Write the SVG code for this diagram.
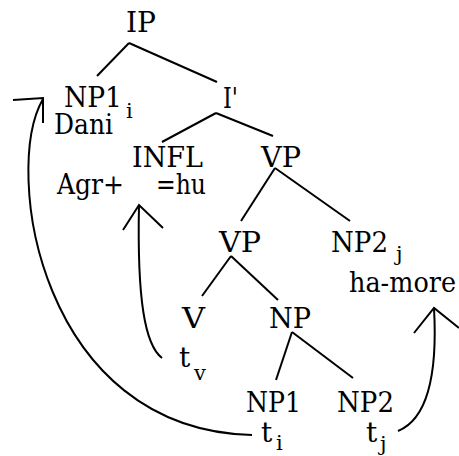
<svg xmlns="http://www.w3.org/2000/svg" width="459" height="456" viewBox="0 0 459 456">
<style>
text{font-family:"DejaVu Serif",serif;font-size:28px;fill:#000}
.s{font-size:21px}
.e{stroke:#000;stroke-width:2;fill:none;stroke-linecap:butt}
</style>
<rect width="459" height="456" fill="#fff"/>
<g id="connectors" class="e">
<line x1="129" y1="43" x2="97" y2="76"/>
<line x1="129" y1="43" x2="217" y2="82"/>
<line x1="216" y1="113" x2="162" y2="142"/>
<line x1="216" y1="113" x2="273" y2="136"/>
<line x1="275" y1="168" x2="241" y2="221"/>
<line x1="275" y1="168" x2="350" y2="221"/>
<line x1="231" y1="256" x2="202" y2="296"/>
<line x1="231" y1="256" x2="278" y2="300"/>
<line x1="292" y1="332" x2="276" y2="380"/>
<line x1="292" y1="332" x2="353" y2="378"/>
<path d="M252,435 C40,430 2,170 43,99"/>
<path d="M13,100 L43,98 L43,123"/>
<path d="M162,358 C145,345 137,300 139,205"/>
<path d="M123,230 L139,205 L163,228"/>
<path d="M398,431 C425,420 438,380 434,308"/>
<path d="M414,333 L434,308 L459,328"/>
</g>
<g id="n-IP"><text x="126" y="32" textLength="30" lengthAdjust="spacingAndGlyphs">IP</text></g>
<g id="n-NP1"><text x="64" y="107" textLength="58" lengthAdjust="spacingAndGlyphs">NP1</text><text class="s" x="126" y="118">i</text><text x="54" y="134" textLength="59" lengthAdjust="spacingAndGlyphs">Dani</text></g>
<g id="n-Ibar"><text x="223" y="108" textLength="15" lengthAdjust="spacingAndGlyphs">I'</text></g>
<g id="n-INFL"><text x="132" y="167" textLength="71" lengthAdjust="spacingAndGlyphs">INFL</text><text x="57" y="194" textLength="67" lengthAdjust="spacingAndGlyphs">Agr+</text><text x="156" y="194" textLength="50" lengthAdjust="spacingAndGlyphs">=hu</text></g>
<g id="n-VP1"><text x="261" y="167" textLength="40" lengthAdjust="spacingAndGlyphs">VP</text></g>
<g id="n-VP2"><text x="219" y="252" textLength="42" lengthAdjust="spacingAndGlyphs">VP</text></g>
<g id="n-NP2j"><text x="331" y="252" textLength="57" lengthAdjust="spacingAndGlyphs">NP2</text><text class="s" x="396" y="261">j</text><text x="349" y="292" textLength="107" lengthAdjust="spacingAndGlyphs">ha-more</text></g>
<g id="n-V"><text x="182" y="328" textLength="23" lengthAdjust="spacingAndGlyphs">V</text><text x="179" y="367">t</text><text class="s" x="194" y="380">v</text></g>
<g id="n-NP"><text x="269" y="328" textLength="42" lengthAdjust="spacingAndGlyphs">NP</text></g>
<g id="n-NP1b"><text x="246" y="412" textLength="55" lengthAdjust="spacingAndGlyphs">NP1</text><text x="261" y="442">t</text><text class="s" x="276" y="450">i</text></g>
<g id="n-NP2b"><text x="337" y="412" textLength="57" lengthAdjust="spacingAndGlyphs">NP2</text><text x="366" y="442">t</text><text class="s" x="380" y="451">j</text></g>
</svg>
